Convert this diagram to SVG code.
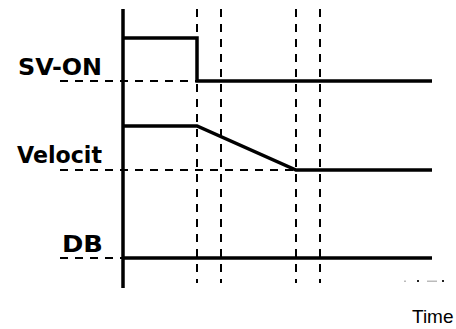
<svg xmlns="http://www.w3.org/2000/svg" width="456" height="329" viewBox="0 0 456 329">
<style>
.sig{fill:none;stroke:#000;stroke-width:3.5;stroke-linejoin:miter;stroke-linecap:butt}
.dash{fill:none;stroke:#000;stroke-width:2;stroke-dasharray:8 7}
.lbl{font-family:"DejaVu Sans","Liberation Sans",sans-serif;font-weight:bold;font-size:22.5px;fill:#000}
.time{font-family:"Liberation Sans",Arial,sans-serif;font-size:19px;fill:#000}
</style>
<rect width="456" height="329" fill="#fff"/>
<g id="connectors">
  <line class="dash" x1="197" y1="9" x2="197" y2="283"/>
  <line class="dash" x1="221" y1="9" x2="221" y2="283"/>
  <line class="dash" x1="296" y1="9" x2="296" y2="283"/>
  <line class="dash" x1="320" y1="9" x2="320" y2="283"/>
  <line class="dash" x1="60" y1="81" x2="197" y2="81"/>
  <line class="dash" x1="60" y1="170" x2="296" y2="170"/>
  <line class="dash" x1="60" y1="258" x2="123" y2="258"/>
</g>
<g id="axis">
  <line class="sig" x1="123" y1="9" x2="123" y2="288"/>
</g>
<g id="sv-on">
  <polyline class="sig" points="123,38 197,38 197,81 432,81"/>
  <text class="lbl" x="18" y="75" textLength="84" lengthAdjust="spacingAndGlyphs">SV-ON</text>
</g>
<g id="velocity">
  <polyline class="sig" points="123,126 197,126 296,170 432,170"/>
  <text class="lbl" x="17" y="163" textLength="85" lengthAdjust="spacingAndGlyphs">Velocit</text>
</g>
<g id="db">
  <line class="sig" x1="123" y1="258" x2="432" y2="258"/>
  <text class="lbl" x="62" y="252" textLength="41" lengthAdjust="spacingAndGlyphs">DB</text>
</g>
<g id="time">
  <rect x="404" y="280.5" width="2" height="1.5" fill="#bbb"/>
  <rect x="417" y="280" width="2" height="2" fill="#222"/>
  <rect x="427" y="280.5" width="10" height="1.5" fill="#bbb"/>
  <rect x="442" y="280" width="2" height="2" fill="#222"/>
  <text class="time" x="412" y="323">Time</text>
</g>
</svg>
